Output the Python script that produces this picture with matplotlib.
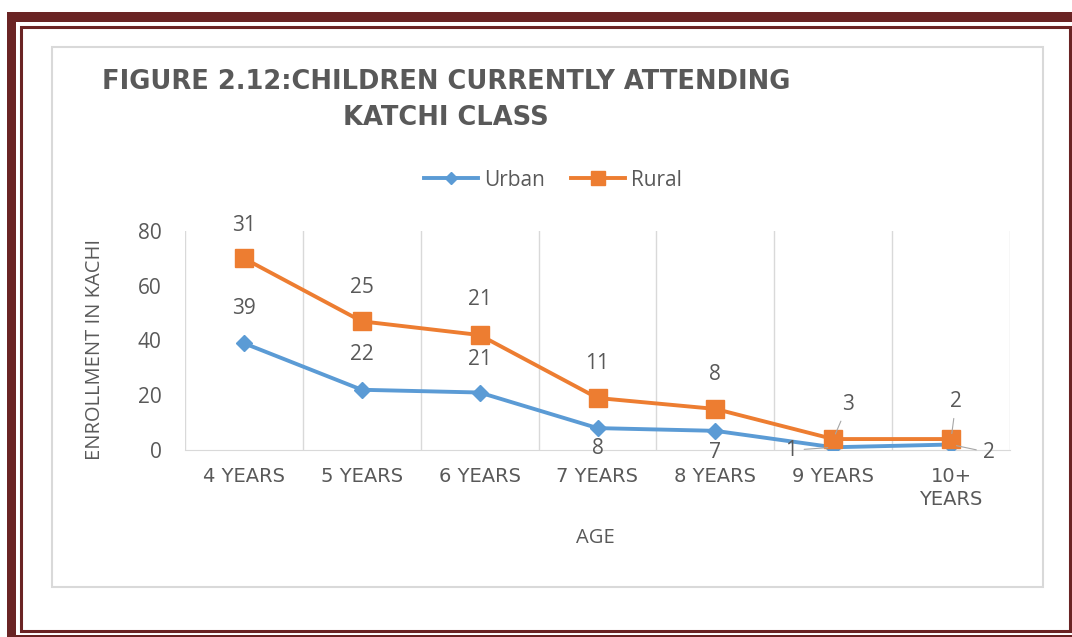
import numpy as np
import matplotlib
matplotlib.use("Agg")
from matplotlib import pyplot as plt
from matplotlib.patches import Rectangle

# dados
categorias = ["4 YEARS", "5 YEARS", "6 YEARS", "7 YEARS", "8 YEARS", "9 YEARS", "10+\nYEARS"]
urbano = [39, 22, 21, 8, 7, 1, 2]
rural = [31, 25, 21, 11, 8, 3, 2]
yticks = [0, 20, 40, 60, 80]

# grafico de linhas empilhadas: rural fica por cima do urbano
rural_empilhado = np.array(urbano) + np.array(rural)

cinza = '#595959'
azul = '#5B9BD5'
laranja = '#ED7D31'
vinho = '#6a2424'

fig = plt.figure(figsize=(10.72, 6.37), dpi=100)

# moldura (em pixels)
fundo = fig.add_axes([0, 0, 1, 1], zorder=-5)
fundo.set_xlim(0, 1072)
fundo.set_ylim(637, 0)
fundo.axis('off')
fundo.add_patch(Rectangle((7, 12), 1100, 700, facecolor=vinho, edgecolor='none'))
fundo.add_patch(Rectangle((16, 22), 1100, 613, facecolor='white', edgecolor='none'))
fundo.add_patch(Rectangle((20.5, 27), 1049.5, 603.5, facecolor='none', edgecolor=vinho, lw=2.2))
fundo.add_patch(Rectangle((52, 47), 991, 540, facecolor='white', edgecolor='#d9d9d9', lw=1.5))

ax = fig.add_axes([185/1072, (637-450)/637, 825/1072, 219/637])
x = np.arange(len(categorias))

l1, = ax.plot(x, urbano, color=azul, lw=2.8, marker='D', ms=8.5, label='Urban', zorder=3)
l2, = ax.plot(x, rural_empilhado, color=laranja, lw=2.8, marker='s', ms=13.5, label='Rural', zorder=4)

# linhas verticais entre as categorias
for b in np.arange(-0.5, len(categorias), 1):
    ax.axvline(b, color='#d9d9d9', lw=1, zorder=0)

ax.set_xlim(-0.5, len(categorias) - 0.5)
ax.set_ylim(0, 80)
ax.set_yticks(yticks)
ax.set_xticks(x)
ax.set_xticklabels(categorias, family='DejaVu Sans', fontsize=14, color=cinza, linespacing=1.3)
ax.tick_params(axis='y', length=0, pad=17, labelsize=15, labelcolor=cinza)
ax.tick_params(axis='x', length=0, pad=12)
for lab in ax.get_yticklabels():
    lab.set_family('Open Sans')
for s in ['top', 'left', 'right']:
    ax.spines[s].set_visible(False)
ax.spines['bottom'].set_color('#d9d9d9')

ax.set_ylabel("ENROLLMENT IN KACHI", family='Open Sans', fontsize=14.5, color=cinza)
ax.yaxis.set_label_coords((105-185)/825, 0.46)
ax.set_xlabel("AGE", family='Open Sans', fontsize=14.5, color=cinza)
ax.xaxis.set_label_coords(0.497, -0.355)

# rotulos de dados (deslocamento em pixels)
desl_urbano = [(0, 35), (0, 35), (0, 33), (0, -20), (0, -22), (-42, -3), (38, -8)]
desl_rural = [(0, 33), (0, 34), (0, 36), (0, 34), (0, 34), (15, 35), (5, 38)]
guia_urbano = [False, False, False, False, False, True, True]
guia_rural = [False, False, False, False, False, True, True]

def rotular(xs, ys, textos, desl, guia):
    for xi, yi, t, d, g in zip(xs, ys, textos, desl, guia):
        ap = None
        if g:
            ap = dict(arrowstyle='-', color='#a6a6a6', lw=0.8, shrinkA=3, shrinkB=4)
        ax.annotate(str(t), (xi, yi), xytext=d, textcoords='offset pixels',
                    ha='center', va='center', fontsize=15, color=cinza,
                    family='Open Sans', arrowprops=ap, zorder=5)

rotular(x, urbano, urbano, desl_urbano, guia_urbano)
rotular(x, rural_empilhado, rural, desl_rural, guia_rural)

fig.legend(handles=[l1, l2], loc='center', bbox_to_anchor=(553/1072, 1-180/637), ncol=2,
           frameon=False, prop={'family': 'Open Sans', 'size': 15}, labelcolor=cinza,
           handlelength=2.6, handletextpad=0.3, columnspacing=1.2, markerscale=0.75)

# titulo
fig.text(446/1072, 1-82/637, "FIGURE 2.12:CHILDREN CURRENTLY ATTENDING", ha='center', va='center',
         fontsize=18.5, fontweight='bold', color=cinza, family='DejaVu Sans')
fig.text(446/1072, 1-118/637, "KATCHI CLASS", ha='center', va='center',
         fontsize=18.5, fontweight='bold', color=cinza, family='DejaVu Sans')

plt.savefig('out.png', dpi=100)
